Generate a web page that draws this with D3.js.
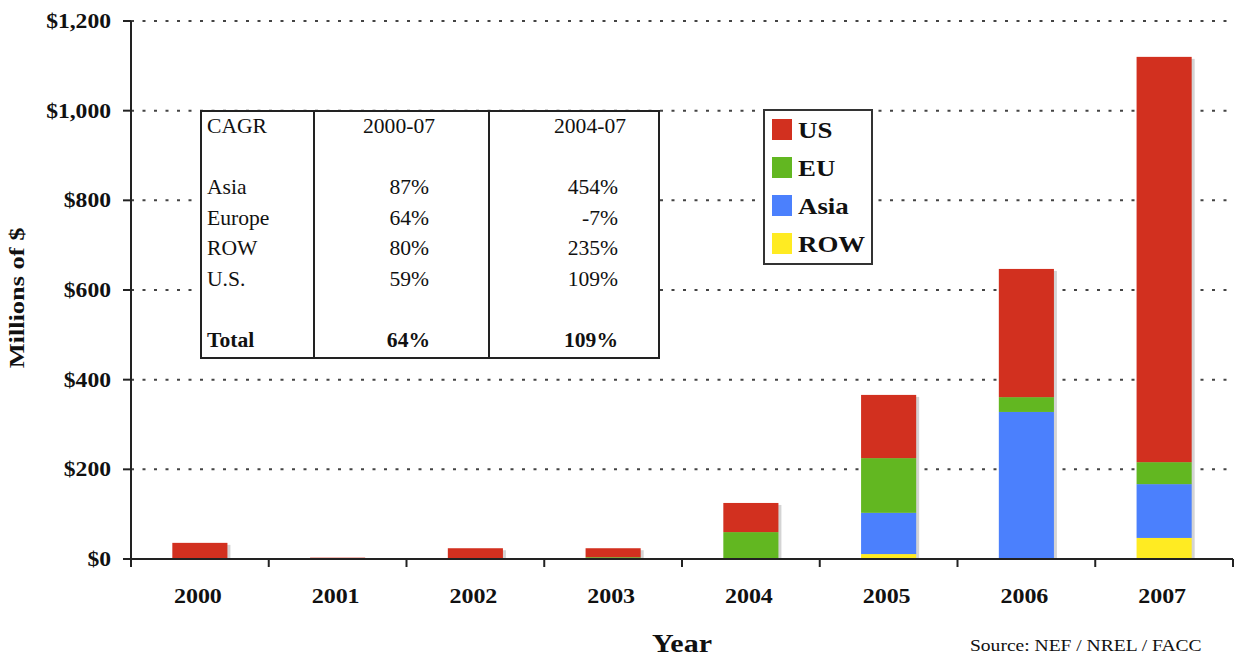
<!DOCTYPE html>
<html>
<head>
<meta charset="utf-8">
<script src="https://cdn.jsdelivr.net/npm/d3@7"></script>
<style>
  body { margin: 0; background: #fff; }
  text { font-family: "Liberation Serif", "Times New Roman", serif; fill: #111; }
</style>
</head>
<body>
<script>
// chart values
let years = ["2000", "2001", "2002", "2003", "2004", "2005", "2006", "2007"];
let usVals = [36, 3, 23, 20, 65, 141, 286, 904];
let euVals = [0, 0, 1, 4, 60, 122, 33, 49];
let asiaVals = [0, 0, 0, 0, 0, 92, 326, 120];
let rowVals = [0, 0, 0, 0, 0, 11, 2, 47];
let yTicks = [0, 200, 400, 600, 800, 1000, 1200];

// legend, top to bottom
let legendNames = ["US", "EU", "Asia", "ROW"];

// CAGR table
let cagrHeaders = ["CAGR", "2000-07", "2004-07"];
let cagrRegions = ["Asia", "Europe", "ROW", "U.S."];
let cagr0007 = ["87%", "64%", "80%", "59%"];
let cagr0407 = ["454%", "-7%", "235%", "109%"];
let cagrTotals = ["Total", "64%", "109%"];

let sourceNote = "Source: NEF / NREL / FACC";

let colors = {US: "#d2301f", EU: "#62b721", Asia: "#4b80fd", ROW: "#ffeb22"};
let stretch = 1.2;

let width = 1241, height = 656;
let margin = {top: 21, right: 8, bottom: 97, left: 131};

let svg = d3.select("body").append("svg")
    .attr("width", width)
    .attr("height", height);

let x = d3.scaleBand()
    .domain(years)
    .range([margin.left, width - margin.right])
    .paddingInner(0.6)
    .paddingOuter(0.3);

let y = d3.scaleLinear()
    .domain([0, 1200])
    .range([height - margin.bottom, margin.top]);

// text that is a little wider than the installed serif
function wideText(g, str, tx, ty, anchor, opts) {
  opts = opts || {};
  return g.append("text")
      .attr("transform", "translate(" + tx + "," + ty + ")" + (opts.rotate ? " rotate(" + opts.rotate + ")" : "") + " scale(" + (opts.sx || stretch) + ",1)")
      .attr("text-anchor", anchor)
      .style("font-size", (opts.size || 20) + "px")
      .style("font-weight", opts.bold ? "bold" : "normal")
      .text(str);
}

// dotted gridlines
svg.append("g")
  .selectAll("line")
  .data(yTicks.filter(function(d){ return d > 0; }))
  .enter().append("line")
    .attr("x1", margin.left)
    .attr("x2", width - margin.right)
    .attr("y1", function(d){ return y(d); })
    .attr("y2", function(d){ return y(d); })
    .attr("stroke", "#444")
    .attr("stroke-width", 2)
    .attr("stroke-dasharray", "3,8.5");

// stack the series, ROW on the bottom
let table = years.map(function(yr, i) {
  return {year: yr, ROW: rowVals[i], Asia: asiaVals[i], EU: euVals[i], US: usVals[i]};
});
let series = d3.stack().keys(["ROW", "Asia", "EU", "US"])(table);

// soft shadow on the right of each bar
svg.append("g")
  .selectAll("rect")
  .data(table)
  .enter().append("rect")
    .attr("x", function(d){ return x(d.year) + 3; })
    .attr("y", function(d){ return y(d.ROW + d.Asia + d.EU + d.US) + 2; })
    .attr("width", x.bandwidth())
    .attr("height", function(d){ return Math.max(0, y(0) - y(d.ROW + d.Asia + d.EU + d.US) - 2); })
    .attr("fill", "#d4d4d4");

svg.append("g")
  .selectAll("g")
  .data(series)
  .enter().append("g")
    .attr("fill", function(s){ return colors[s.key]; })
  .selectAll("rect")
  .data(function(s){ return s; })
  .enter().append("rect")
    .attr("x", function(d){ return x(d.data.year); })
    .attr("y", function(d){ return y(d[1]); })
    .attr("width", x.bandwidth())
    .attr("height", function(d){ return y(d[0]) - y(d[1]); });

// axes
let axisColor = "#222";
let yAxis = svg.append("g");
yAxis.append("line")
    .attr("x1", margin.left).attr("x2", margin.left)
    .attr("y1", y(1200)).attr("y2", y(0))
    .attr("stroke", axisColor).attr("stroke-width", 2);
yAxis.selectAll(".tick")
  .data(yTicks)
  .enter().append("line")
    .attr("x1", margin.left - 8).attr("x2", margin.left)
    .attr("y1", function(d){ return y(d); })
    .attr("y2", function(d){ return y(d); })
    .attr("stroke", axisColor).attr("stroke-width", 2);
let fmt = d3.format("$,");
yTicks.forEach(function(t) {
  wideText(svg, fmt(t), margin.left - 20, y(t) + 7, "end", {bold: true, size: 20, sx: 1.18});
});

let xAxis = svg.append("g");
xAxis.append("line")
    .attr("x1", margin.left - 8).attr("x2", width - margin.right)
    .attr("y1", y(0)).attr("y2", y(0))
    .attr("stroke", axisColor).attr("stroke-width", 2);
let edges = years.map(function(d){ return x(d) - x.step() * 0.3; });
edges.push(width - margin.right);
xAxis.selectAll(".tick")
  .data(edges)
  .enter().append("line")
    .attr("x1", function(d){ return d; }).attr("x2", function(d){ return d; })
    .attr("y1", y(0)).attr("y2", y(0) + 8)
    .attr("stroke", axisColor).attr("stroke-width", 2);
years.forEach(function(yr) {
  wideText(svg, yr, x(yr) + x.bandwidth() / 2 - 2, 603, "middle", {bold: true, size: 20});
});

// axis titles
wideText(svg, "Millions of $", 24, 298, "middle", {bold: true, size: 22, rotate: -90});
wideText(svg, "Year", 682, 652, "middle", {bold: true, size: 25});
wideText(svg, sourceNote, 970, 651, "start", {size: 17, sx: 1.15});

// CAGR table box
let tbl = svg.append("g");
tbl.append("rect")
    .attr("x", 201).attr("y", 111)
    .attr("width", 458).attr("height", 247)
    .attr("fill", "#fff")
    .attr("stroke", "#222").attr("stroke-width", 2);
[314, 489].forEach(function(cx) {
  tbl.append("line")
      .attr("x1", cx).attr("x2", cx)
      .attr("y1", 111).attr("y2", 358)
      .attr("stroke", "#222").attr("stroke-width", 2);
});
wideText(tbl, cagrHeaders[0], 207, 133, "start", {size: 20, sx: 1.08});
wideText(tbl, cagrHeaders[1], 399, 133, "middle", {size: 20, sx: 1.08});
wideText(tbl, cagrHeaders[2], 590, 133, "middle", {size: 20, sx: 1.08});
cagrRegions.forEach(function(r, i) {
  let by = 194 + i * 30.5;
  wideText(tbl, r, 207, by, "start", {size: 20, sx: 1.08});
  wideText(tbl, cagr0007[i], 429, by, "end", {size: 20, sx: 1.08});
  wideText(tbl, cagr0407[i], 618, by, "end", {size: 20, sx: 1.08});
});
wideText(tbl, cagrTotals[0], 207, 347, "start", {size: 20, sx: 1.08, bold: true});
wideText(tbl, cagrTotals[1], 430, 347, "end", {size: 20, sx: 1.08, bold: true});
wideText(tbl, cagrTotals[2], 618, 347, "end", {size: 20, sx: 1.08, bold: true});

// legend
let legend = svg.append("g");
legend.append("rect")
    .attr("x", 764).attr("y", 110)
    .attr("width", 108).attr("height", 154)
    .attr("fill", "#fff")
    .attr("stroke", "#333").attr("stroke-width", 2);
legendNames.forEach(function(name, i) {
  let ly = 119 + i * 38;
  legend.append("rect")
      .attr("x", 772).attr("y", ly)
      .attr("width", 20).attr("height", 21)
      .attr("fill", colors[name]);
  wideText(legend, name, 798, ly + 19, "start", {bold: true, size: 24, sx: 1.12});
});
</script>
</body>
</html>
